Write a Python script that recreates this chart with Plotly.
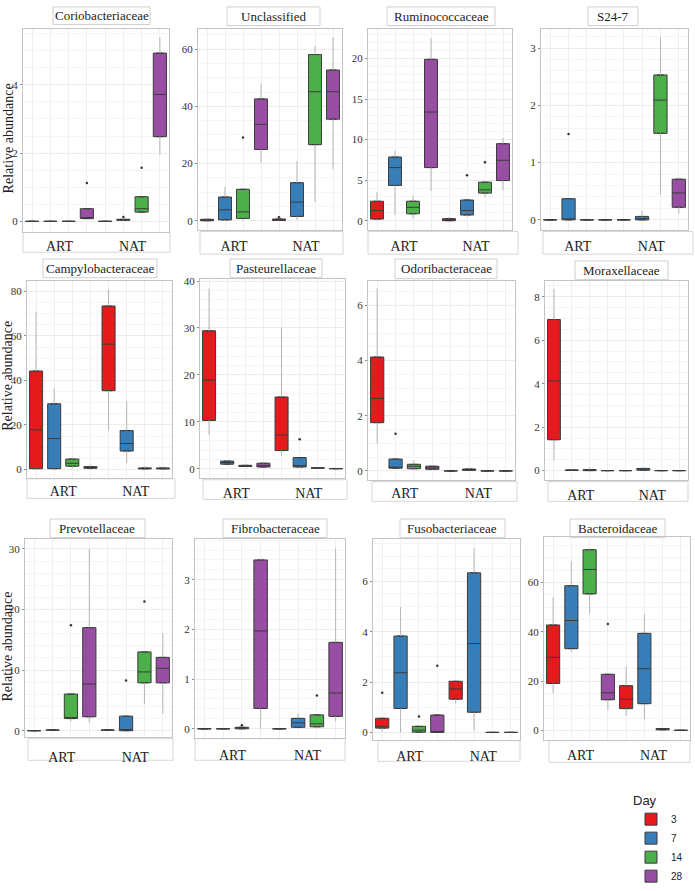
import plotly.graph_objects as go

# ---------------- data ----------------
FAMILIES = ["Coriobacteriaceae", "Unclassified", "Ruminococcaceae", "S24-7",
            "Campylobacteraceae", "Pasteurellaceae", "Odoribacteraceae", "Moraxellaceae",
            "Prevotellaceae", "Fibrobacteraceae", "Fusobacteriaceae", "Bacteroidaceae"]
GROUPS = ["ART", "NAT"]
DAYS = ["3", "7", "14", "28"]
# slot order: ART3, ART7, ART14, ART28, NAT3, NAT7, NAT14, NAT28
LOWER = [
    [0, 0, 0, 0.08, 0, 0.02, 0.27, 1.95],
    [0, 0, 0, 20.3, 0, 0.2, 6.6, 18.1],
    [0, 0.7, 0.3, 3.65, 0, 0.5, 2.9, 3.75],
    [0, 0, 0, 0, 0, 0, 0.44, 0.11],
    [0, 0, 0.5, 0.6, 17.5, 2.9, 0.2, 0.2],
    [7.2, 1.0, 0.5, 0.4, 2.8, 0.1, 0.1, 0],
    [0.99, 0.1, 0.05, 0.04, 0, 0.01, 0, 0],
    [0.48, 0, 0, 0, 0, 0.02, 0, 0],
    [0, 0.1, 1.5, 1.3, 0.1, 0, 4.4, 2.8],
    [0, 0, 0, 0, 0, 0.03, 0.04, 0.15],
    [0.04, 0, 0, 0, 1.15, 0.07, 0, 0],
    [15.1, 31.9, 47.4, 8.2, 6.0, 4.5, 0.3, 0],
]
Q1 = [
    [0, 0, 0, 0.08, 0, 0.03, 0.27, 2.48],
    [0, 0.3, 0.8, 24.9, 0.1, 1.5, 26.6, 35.5],
    [0.2, 4.35, 0.85, 6.55, 0.0, 0.7, 3.4, 4.95],
    [0, 0, 0, 0, 0, 0, 1.51, 0.22],
    [0.4, 0.4, 1.5, 0.6, 35.4, 8.3, 0.3, 0.3],
    [10.3, 1.0, 0.5, 0.4, 3.9, 0.4, 0.15, 0.02],
    [1.75, 0.1, 0.08, 0.06, 0, 0.02, 0, 0],
    [1.42, 0.01, 0.0, 0, 0, 0.02, 0, 0],
    [0, 0.1, 2.0, 2.3, 0.1, 0, 7.9, 7.9],
    [0, 0, 0, 0.41, 0, 0.03, 0.04, 0.25],
    [0.17, 0.95, 0.01, 0, 1.32, 0.8, 0, 0],
    [19.1, 33.2, 55.4, 12.5, 8.9, 10.9, 0.3, 0.05],
]
MEDIAN = [
    [0, 0, 0, 0.1, 0, 0.05, 0.37, 3.72],
    [0.2, 3.8, 3.1, 33.7, 0.3, 6.5, 45.1, 45.1],
    [1.25, 6.55, 1.65, 13.4, 0.1, 1.25, 3.8, 7.45],
    [0, 0, 0, 0, 0, 0.02, 2.09, 0.47],
    [17.8, 13.9, 2.8, 0.9, 56.3, 11.7, 0.5, 0.5],
    [18.9, 1.35, 0.6, 0.7, 7.2, 0.7, 0.2, 0.05],
    [2.63, 0.12, 0.17, 0.11, 0, 0.05, 0, 0],
    [4.12, 0.02, 0.03, 0, 0, 0.07, 0, 0],
    [0, 0.1, 2.15, 7.7, 0.1, 0.2, 9.7, 10.3],
    [0, 0, 0.02, 1.97, 0, 0.12, 0.1, 0.72],
    [0.24, 2.37, 0.09, 0.03, 1.73, 3.53, 0, 0],
    [29.7, 44.6, 65.3, 15.3, 12.7, 25.1, 0.6, 0.1],
]
Q3 = [
    [0, 0, 0, 0.37, 0, 0.06, 0.72, 4.93],
    [0.5, 8.3, 11, 42.6, 0.6, 13.3, 58.1, 52.7],
    [2.4, 7.85, 2.4, 19.9, 0.25, 2.55, 4.75, 9.5],
    [0, 0.37, 0, 0, 0, 0.06, 2.53, 0.71],
    [44.2, 29.5, 4.7, 1.3, 73.4, 17.5, 0.7, 0.7],
    [29.4, 1.65, 0.75, 1.2, 15.3, 2.4, 0.25, 0.08],
    [4.13, 0.43, 0.24, 0.17, 0, 0.07, 0, 0],
    [6.95, 0.03, 0.05, 0, 0, 0.1, 0, 0],
    [0, 0.1, 6.05, 17.0, 0.1, 2.4, 13.0, 12.1],
    [0, 0, 0.03, 3.4, 0, 0.21, 0.28, 1.74],
    [0.56, 3.83, 0.24, 0.69, 2.03, 6.34, 0, 0],
    [42.8, 58.7, 73.3, 22.8, 18.2, 39.4, 0.8, 0.15],
]
UPPER = [
    [0, 0, 0, 0.37, 0, 0.09, 0.72, 5.39],
    [0.8, 11.8, 11, 47.8, 0.8, 20.9, 61.1, 64.1],
    [3.5, 8.6, 3.1, 22.5, 0.45, 2.55, 4.75, 10.2],
    [0, 0.37, 0, 0, 0, 0.16, 3.19, 0.74],
    [70.9, 36.5, 5.5, 2.2, 80.8, 30.7, 1.5, 1.5],
    [38.4, 1.8, 0.9, 1.4, 30.1, 2.4, 0.3, 0.1],
    [6.61, 0.43, 0.39, 0.2, 0, 0.12, 0, 0],
    [8.36, 0.05, 0.15, 0, 0, 0.15, 0, 0],
    [0, 0.1, 6.05, 30.0, 0.1, 2.4, 13.0, 16.1],
    [0, 0, 0.03, 3.44, 0, 0.31, 0.28, 3.63],
    [0.56, 4.98, 0.24, 0.69, 2.03, 7.32, 0, 0],
    [54, 68.7, 74, 22.8, 25.9, 47.1, 0.8, 0.15],
]
# outliers: (panel index, slot 1..8, value)
OUTLIERS = [
    (0, 4, 1.12), (0, 6, 0.13), (0, 7, 1.57),
    (1, 3, 29.1), (1, 5, 1.2),
    (2, 6, 5.6), (2, 7, 7.2),
    (3, 2, 1.5),
    (5, 6, 6.3),
    (6, 2, 1.35),
    (8, 3, 17.4), (8, 6, 8.3), (8, 7, 21.3),
    (9, 3, 0.07), (9, 7, 0.67),
    (10, 1, 1.58), (10, 3, 0.63), (10, 4, 2.65),
    (11, 4, 43.2),
]
Y_RANGES = [[-0.3, 5.65], [-3.1, 67.2], [-1.1, 23.7], [-0.17, 3.34],
            [-3.7, 84.8], [-1.9, 40.5], [-0.32, 6.9], [-0.42, 8.74],
            [-1.0, 31.7], [-0.18, 3.83], [-0.29, 7.7], [-3.7, 78.6]]
Y_DTICK = [2, 20, 5, 1, 20, 10, 2, 2, 10, 1, 2, 20]

# ---------------- layout geometry (pixels) ----------------
W, H = 695, 891
PANELS = [
    (23, 169, 25, 232), (198, 342, 25, 230), (368, 512, 25, 230), (541, 688, 25, 230),
    (27, 172, 282, 483), (200, 345, 280, 483), (368, 515, 282, 485), (545, 688, 282, 485),
    (25, 172, 545, 747), (195, 345, 545, 748), (373, 520, 545, 750), (544, 690, 543, 750),
]
LABEL_STANDOFF = [2, 4, 4, 4, 0, 2, 0, 2, 7, 4, 4, 3]
TITLE_BOXES = [
    (53, 150, 3, 21), (227, 320, 3, 22), (387, 495, 3, 22), (588, 638, 3, 22),
    (43, 157, 260, 279), (230, 322, 260, 279), (395, 497, 260, 280), (575, 668, 262, 281),
    (50, 145, 525, 544), (223, 327, 525, 544), (400, 505, 525, 544), (570, 665, 525, 544),
]
BOTTOM_BOXES = [
    (23, 170, 233, 253), (200, 343, 232, 255), (368, 518, 232, 255), (543, 693, 232, 255),
    (27, 175, 484, 504), (203, 347, 485, 505), (372, 517, 487, 507), (548, 688, 487, 507),
    (28, 173, 749, 771), (195, 345, 749, 771), (378, 520, 751, 772), (549, 690, 751, 773),
]
COLORS = ["#E41A1C", "#377EB8", "#4DAF4A", "#984EA3"]
SERIF = "Times New Roman, Liberation Serif, DejaVu Serif, serif"
SANS = "Arial, Liberation Sans, sans-serif"

fig = go.Figure()
layout = dict(width=W, height=H, margin=dict(l=0, r=0, t=0, b=0), autosize=False,
              paper_bgcolor="white", plot_bgcolor="white", showlegend=True)
shapes, annotations = [], []


def px_x(v):
    return v / W


def px_y(v):
    return 1 - v / H


for p, fam in enumerate(FAMILIES):
    k = p + 1
    xa, ya = f"x{k}", f"y{k}"
    x0, x1, y0, y1 = PANELS[p]
    # whiskers
    wx, wy = [], []
    for s in range(8):
        slot = s + 1
        if LOWER[p][s] < Q1[p][s]:
            wx += [slot, slot, None]
            wy += [LOWER[p][s], Q1[p][s], None]
        if UPPER[p][s] > Q3[p][s]:
            wx += [slot, slot, None]
            wy += [Q3[p][s], UPPER[p][s], None]
    fig.add_trace(go.Scatter(x=wx, y=wy, mode="lines", line=dict(color="#b5b5b5", width=1),
                             xaxis=xa, yaxis=ya, showlegend=False, hoverinfo="skip"))
    # boxes
    for s in range(8):
        d = s % 4
        fig.add_trace(go.Box(
            x=[s + 1], q1=[Q1[p][s]], median=[MEDIAN[p][s]], q3=[Q3[p][s]],
            lowerfence=[Q1[p][s]], upperfence=[Q3[p][s]],
            fillcolor=COLORS[d], line=dict(color="#3b3b3b", width=1), width=0.72,
            boxpoints=False, xaxis=xa, yaxis=ya, name=DAYS[d], legendgroup=DAYS[d],
            showlegend=(p == 0 and s < 4), hoverinfo="skip"))
    # outliers
    ox = [o[1] for o in OUTLIERS if o[0] == p]
    oy = [o[2] for o in OUTLIERS if o[0] == p]
    if ox:
        fig.add_trace(go.Scatter(x=ox, y=oy, mode="markers",
                                 marker=dict(color="#333333", size=2.5),
                                 xaxis=xa, yaxis=ya, showlegend=False, hoverinfo="skip"))

    layout[f"xaxis{k}"] = dict(
        domain=[px_x(x0), px_x(x1)], anchor=ya, range=[0.5, 8.5],
        tickvals=[2.5, 6.5], ticktext=GROUPS, ticks="", showgrid=False,
        tickfont=dict(family=SERIF, size=14, color="#222"),
        ticklabelstandoff=LABEL_STANDOFF[p],
        showline=True, linecolor="#c4c4c4", linewidth=1, mirror=True, zeroline=False,
        minor=dict(tickvals=[1, 2, 3, 4, 5, 6, 7, 8], showgrid=True, gridcolor="#efefef",
                   gridwidth=1, ticks=""))
    layout[f"yaxis{k}"] = dict(
        domain=[px_y(y1), px_y(y0)], anchor=xa, range=Y_RANGES[p],
        tick0=0, dtick=Y_DTICK[p], ticks="outside", ticklen=2, tickcolor="#888",
        tickfont=dict(family=SERIF, size=11, color="#333"),
        showgrid=True, gridcolor="#ececec", zeroline=False,
        showline=True, linecolor="#c4c4c4", linewidth=1, mirror=True,
        minor=dict(showgrid=True, gridcolor="#f5f5f5"))

    # title tab
    tx0, tx1, ty0, ty1 = TITLE_BOXES[p]
    shapes.append(dict(type="rect", xref="paper", yref="paper", layer="below",
                       x0=px_x(tx0), x1=px_x(tx1), y0=px_y(ty1), y1=px_y(ty0),
                       line=dict(color="#cfcfcf", width=1), fillcolor="white"))
    annotations.append(dict(text=fam, xref="paper", yref="paper", showarrow=False,
                            x=px_x((tx0 + tx1) / 2), y=px_y((ty0 + ty1) / 2),
                            xanchor="center", yanchor="middle",
                            font=dict(family=SERIF, size=13, color="#222")))
    # bottom label box
    bx0, bx1, by0, by1 = BOTTOM_BOXES[p]
    shapes.append(dict(type="rect", xref="paper", yref="paper", layer="below",
                       x0=px_x(bx0), x1=px_x(bx1), y0=px_y(by1), y1=px_y(by0),
                       line=dict(color="#d6d6d6", width=1), fillcolor="rgba(0,0,0,0)"))

for yc in (137, 379, 655):
    annotations.append(dict(text="Relative abundance", xref="paper", yref="paper",
                            showarrow=False, x=px_x(8), y=px_y(yc), textangle=-90,
                            xanchor="center", yanchor="middle",
                            font=dict(family=SERIF, size=14, color="#222")))

layout["shapes"] = shapes
layout["annotations"] = annotations
layout["legend"] = dict(
    title=dict(text="Day", font=dict(family=SANS, size=13, color="#222")),
    x=px_x(631), y=px_y(799), xanchor="left", yanchor="top",
    font=dict(family=SANS, size=10, color="#222"),
    bgcolor="rgba(0,0,0,0)", tracegroupgap=0, itemwidth=30)
fig.update_layout(**layout)
fig.write_html("out.html", config={"displayModeBar": False},
               post_script="document.body.style.margin='0px';")
